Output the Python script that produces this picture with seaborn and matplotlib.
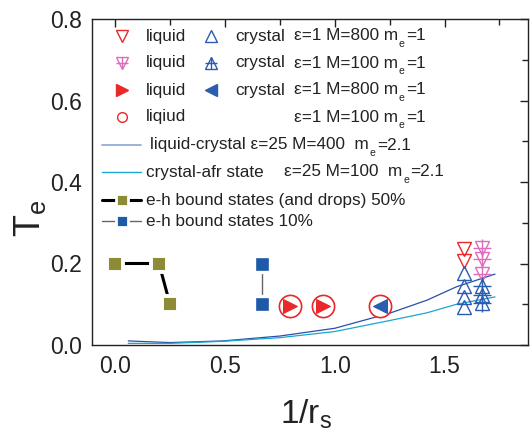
import matplotlib
matplotlib.use("Agg")
import matplotlib.pyplot as plt
import seaborn as sns
import numpy as np
import pandas as pd

# ---------------- data ----------------
eh50_x = [0.0, 0.2, 0.25]
eh50_y = [0.2, 0.2, 0.1]
eh10_x = [0.669, 0.669]
eh10_y = [0.2, 0.1]

circ_x = [0.797, 0.948, 1.206]
circ_y = [0.096, 0.096, 0.096]
liqR_x = [0.797, 0.948]
liqR_y = [0.096, 0.096]
cryL_x = [1.206]
cryL_y = [0.096]

liq800_x = [1.589, 1.589]
liq800_y = [0.236, 0.206]
liq100_x = [1.669, 1.669, 1.669]
liq100_y = [0.239, 0.211, 0.174]
cry800_x = [1.589, 1.589, 1.589, 1.589]
cry800_y = [0.177, 0.145, 0.117, 0.094]
cry100_x = [1.669, 1.669, 1.669]
cry100_y = [0.145, 0.122, 0.104]

lc_x = [0.06, 0.25, 0.49, 0.75, 1.0, 1.25, 1.42, 1.555, 1.73]
lc_y = [0.010, 0.006, 0.010, 0.022, 0.041, 0.078, 0.110, 0.143, 0.174]
ca_x = [0.06, 0.25, 0.49, 0.75, 1.0, 1.25, 1.42, 1.555, 1.73]
ca_y = [0.004, 0.004, 0.009, 0.018, 0.033, 0.060, 0.079, 0.100, 0.118]

xticks = [0.0, 0.5, 1.0, 1.5]
yticks = [0.0, 0.2, 0.4, 0.6, 0.8]

# ---------------- style ----------------
sns.set_theme(style="white")
plt.rcParams['font.family'] = ['Liberation Sans', 'DejaVu Sans']
plt.rcParams['mathtext.fontset'] = 'custom'
plt.rcParams['mathtext.rm'] = 'Liberation Sans'
plt.rcParams['mathtext.it'] = 'Liberation Sans:italic'

RED = '#e8282a'
PINK = '#dd6cbc'
BLUE = '#2a5cb0'
DBLUE = '#2850a8'
LBLUE = '#1aa6d2'
OLIVE = '#8c8c38'
SQBLUE = '#1f5aa8'

fig = plt.figure(figsize=(5.30, 4.37), dpi=100)
ax = fig.add_axes([92/530, 1-345/437, 436/530, 326/437])

def lp(x, y, **kw):
    sns.lineplot(x=x, y=y, ax=ax, estimator=None, sort=False, legend=False, **kw)

# curves
lp(lc_x, lc_y, color=DBLUE, lw=0.9)
lp(ca_x, ca_y, color=LBLUE, lw=0.9)

# e-h bound states
lp(eh50_x, eh50_y, color='black', lw=2.2, marker='s', markersize=12.2,
   markerfacecolor=OLIVE, markeredgecolor='white', markeredgewidth=2.8)
lp(eh10_x, eh10_y, color='#666666', lw=1.0, marker='s', markersize=11.5,
   markerfacecolor=SQBLUE, markeredgecolor='white', markeredgewidth=2.4)

# circles with triangles
lp(circ_x, circ_y, linestyle='none', marker='o', markersize=16,
   markerfacecolor='white', markeredgecolor=RED, markeredgewidth=1.2)
lp(liqR_x, liqR_y, linestyle='none', marker='>', markersize=9.5,
   markerfacecolor=RED, markeredgecolor=RED)
lp(cryL_x, cryL_y, linestyle='none', marker='<', markersize=9.5,
   markerfacecolor=BLUE, markeredgecolor=BLUE)

# triangles cluster
lp(liq800_x, liq800_y, linestyle='none', marker='v', markersize=10.5,
   markerfacecolor='none', markeredgecolor=RED, markeredgewidth=1.0)
lp(cry800_x, cry800_y, linestyle='none', marker='^', markersize=10.5,
   markerfacecolor='none', markeredgecolor=BLUE, markeredgewidth=1.0)
lp(liq100_x, liq100_y, linestyle='none', marker='v', markersize=10,
   markerfacecolor='none', markeredgecolor=PINK, markeredgewidth=1.0)
lp(liq100_x, liq100_y, linestyle='none', marker='+', markersize=13,
   markeredgecolor=PINK, markeredgewidth=1.0)
lp(cry100_x, cry100_y, linestyle='none', marker='^', markersize=10,
   markerfacecolor='none', markeredgecolor=BLUE, markeredgewidth=1.0)
lp(cry100_x, cry100_y, linestyle='none', marker='+', markersize=13,
   markeredgecolor=BLUE, markeredgewidth=1.0)

# ---------------- axes ----------------
ax.set_xlim(-0.105, 1.88)
ax.set_ylim(0.0, 0.8)
ax.set_xticks(xticks)
ax.set_xticklabels([f"{v:.1f}" for v in xticks])
ax.set_yticks(yticks)
ax.set_yticklabels([f"{v:.1f}" for v in yticks])
ax.set_xticks(np.arange(0.25, 1.8, 0.5), minor=True)
ax.set_yticks(np.arange(0.1, 0.8, 0.2), minor=True)
ax.tick_params(which='both', direction='in', top=True, right=True,
               color='#222222', width=1.0)
ax.tick_params(which='major', length=6, labelsize=16.5, labelcolor='#222222', pad=7)
ax.tick_params(which='minor', length=4)
for s in ax.spines.values():
    s.set_color('#222222')
    s.set_linewidth(1.0)

ax.set_xlabel(r"1/r$_\mathrm{s}$", fontsize=24, color='#222222')
ax.set_ylabel(r"T$_\mathrm{e}$", fontsize=26, color='#222222')
ax.xaxis.set_label_coords(0.49, -0.16)
ax.yaxis.set_label_coords(-0.10, 0.39)

# ---------------- legend (drawn manually) ----------------
T = ax.transAxes
renderer = fig.canvas.get_renderer()

def fx(px):
    return (px - 92) / 436
def fy(py):
    return (345 - py) / 326

rows = [36, 63, 90, 117, 145, 172, 200, 221]
FS = 12.3
tc = '#222222'

def mk(px, py, **kw):
    ax.plot([fx(px)], [fy(py)], transform=T, clip_on=False, linestyle='none', **kw)

def tx(px, py, s):
    return ax.text(fx(px), fy(py), s, transform=T, fontsize=FS, color=tc, va='center', ha='left')

def tx_sub(px, py, pre, sub, post):
    t1 = tx(px, py, pre)
    w1 = t1.get_window_extent(renderer).width * 72 / fig.dpi
    t2 = ax.annotate(sub, xy=(fx(px), fy(py)), xycoords=T, xytext=(w1 + 0.6, -6.0),
                     textcoords='offset points', fontsize=7.5, color=tc,
                     va='center', ha='left')
    w2 = t2.get_window_extent(renderer).width * 72 / fig.dpi
    ax.annotate(post, xy=(fx(px), fy(py)), xycoords=T, xytext=(w1 + w2 + 1.6, 0),
                textcoords='offset points', fontsize=FS, color=tc,
                va='center', ha='left')

# row 1
mk(122, rows[0], marker='v', markersize=9, markerfacecolor='none', markeredgecolor=RED, markeredgewidth=1.0)
tx(146, rows[0], "liquid")
mk(211, rows[0], marker='^', markersize=9, markerfacecolor='none', markeredgecolor=BLUE, markeredgewidth=1.0)
tx(235, rows[0], "crystal")
tx_sub(294, rows[0], "ε=1 M=800 m", "e", "=1")
# row 2
mk(122, rows[1], marker='v', markersize=8, markerfacecolor='none', markeredgecolor=PINK, markeredgewidth=1.0)
mk(122, rows[1], marker='+', markersize=9, markeredgecolor=PINK, markeredgewidth=1.0)
tx(146, rows[1], "liquid")
mk(211, rows[1], marker='^', markersize=8, markerfacecolor='none', markeredgecolor=BLUE, markeredgewidth=1.0)
mk(211, rows[1], marker='+', markersize=9, markeredgecolor=BLUE, markeredgewidth=1.0)
tx(235, rows[1], "crystal")
tx_sub(294, rows[1], "ε=1 M=100 m", "e", "=1")
# row 3
mk(122, rows[2], marker='>', markersize=8, markerfacecolor=RED, markeredgecolor=RED)
tx(146, rows[2], "liquid")
mk(211, rows[2], marker='<', markersize=8, markerfacecolor=BLUE, markeredgecolor=BLUE)
tx(235, rows[2], "crystal")
tx_sub(294, rows[2], "ε=1 M=800 m", "e", "=1")
# row 4
mk(122, rows[3], marker='o', markersize=7, markerfacecolor='none', markeredgecolor=RED, markeredgewidth=1.0)
tx(146, rows[3], "liqiud")
tx_sub(294, rows[3], "ε=1 M=100 m", "e", "=1")
# row 5
ax.plot([fx(102), fx(141)], [fy(rows[4])] * 2, transform=T, clip_on=False, color='#8aa4d4', lw=1.2)
tx_sub(150, rows[4], "liquid-crystal ε=25 M=400  m", "e", "=2.1")
# row 6
ax.plot([fx(102), fx(141)], [fy(rows[5])] * 2, transform=T, clip_on=False, color=LBLUE, lw=1.0)
tx(146, rows[5], "crystal-afr state")
tx_sub(284, rows[5], "ε=25 M=100  m", "e", "=2.1")
# row 7
ax.plot([fx(102), fx(141)], [fy(rows[6])] * 2, transform=T, clip_on=False, color='black', lw=2.2)
mk(121.5, rows[6], marker='s', markersize=8.5, markerfacecolor=OLIVE, markeredgecolor='white', markeredgewidth=2.0)
tx(146, rows[6], "e-h bound states (and drops) 50%")
# row 8
ax.plot([fx(102), fx(141)], [fy(rows[7])] * 2, transform=T, clip_on=False, color='#666666', lw=1.0)
mk(121.5, rows[7], marker='s', markersize=8.5, markerfacecolor=SQBLUE, markeredgecolor='white', markeredgewidth=2.0)
tx(146, rows[7], "e-h bound states 10%")

fig.savefig("out.png", dpi=100)
